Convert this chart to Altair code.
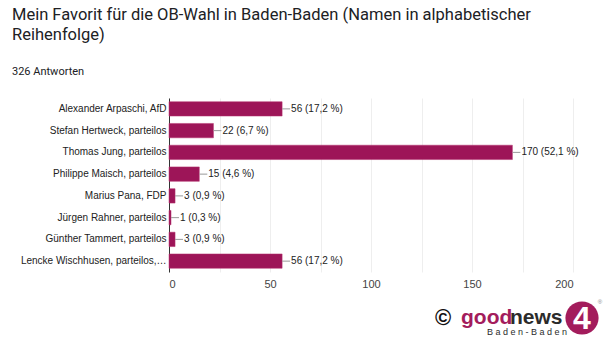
import altair as alt
import pandas as pd

names = [
    "Alexander Arpaschi, AfD",
    "Stefan Hertweck, parteilos",
    "Thomas Jung, parteilos",
    "Philippe Maisch, parteilos",
    "Marius Pana, FDP",
    "Jürgen Rahner, parteilos",
    "Günther Tammert, parteilos",
    "Lencke Wischhusen, parteilos,…",
]
votes = [56, 22, 170, 15, 3, 1, 3, 56]
percents = ["17,2", "6,7", "52,1", "4,6", "0,9", "0,3", "0,9", "17,2"]

df = pd.DataFrame({
    "name": names,
    "votes": votes,
    "label": [f"{v} ({p} %)" for v, p in zip(votes, percents)],
})

BAR = "#9d1558"
FONT = "Liberation Sans"

y_enc = alt.Y("name:N", sort=names, title=None,
              scale=alt.Scale(paddingInner=0.34, paddingOuter=0.17),
              axis=alt.Axis(labelFont=FONT, labelFontSize=10, labelColor="#222222",
                            ticks=False, domain=True, domainColor="#333333",
                            labelPadding=3, grid=False, labelLimit=200))
x_scale = alt.Scale(domain=[0, 200], nice=False)

bars = alt.Chart(df).mark_bar(color=BAR, stroke="#b5326f", strokeWidth=0.5).encode(
    x=alt.X("votes:Q", scale=x_scale, title=None,
            axis=alt.Axis(values=[0, 25, 50, 75, 100, 125, 150, 175, 200],
                          labelExpr="datum.value % 50 == 0 ? datum.label : ''",
                          labelFont=FONT, labelFontSize=11, labelColor="#444444",
                          ticks=False, domain=False, gridColor="#eeeeee",
                          labelPadding=6)),
    y=y_enc,
)

connectors = alt.Chart(df).mark_rule(color="#999999", strokeWidth=1, x2Offset=8).encode(
    x=alt.X("votes:Q", scale=x_scale),
    x2="votes:Q",
    y=alt.Y("name:N", sort=names),
)

labels = alt.Chart(df).mark_text(align="left", baseline="middle", dx=9,
                                 font=FONT, fontSize=10, color="#222222").encode(
    x=alt.X("votes:Q", scale=x_scale),
    y=alt.Y("name:N", sort=names),
    text="label:N",
)

def deco(text, x, y, **kw):
    return alt.Chart(alt.Data(values=[{}])).mark_text(**kw).encode(
        x=alt.value(x), y=alt.value(y), text=alt.value(text))

# plot origin at (169, 98)
OX, OY = 169, 98
title1 = deco("Mein Favorit für die OB-Wahl in Baden-Baden (Namen in alphabetischer",
              12 - OX, 20 - OY, align="left", baseline="alphabetic",
              font="Roboto", fontSize=16.5, color="#202124")
title2 = deco("Reihenfolge)", 12 - OX, 40 - OY, align="left", baseline="alphabetic",
              font="Roboto", fontSize=16.5, color="#202124")
sub = deco("326 Antworten", 12 - OX, 75 - OY, align="left", baseline="alphabetic",
           font="Roboto", fontSize=11, color="#202124")

copy = deco("©", 443 - OX, 318 - OY, align="center", baseline="middle",
            font=FONT, fontSize=22, fontWeight="bold", color="#111111")
good = deco("good", 461 - OX, 324 - OY, align="left", baseline="alphabetic",
            font=FONT, fontSize=21, fontWeight="bold", color="#a31c5c")
news = deco("news", 510 - OX, 324 - OY, align="left", baseline="alphabetic",
            font=FONT, fontSize=21, fontWeight="bold", color="#2b2b2b")
baden = deco("B a d e n - B a d e n", 487 - OX, 335 - OY, align="left", baseline="alphabetic",
             font=FONT, fontSize=9, color="#2b2b2b")
circle = alt.Chart(alt.Data(values=[{}])).mark_point(
    filled=True, color="#a31c5c", opacity=1, shape="circle", size=1100).encode(
    x=alt.value(582 - OX), y=alt.value(318 - OY))
four = deco("4", 582 - OX, 319 - OY, align="center", baseline="middle",
            font=FONT, fontSize=32, fontWeight="bold", color="#ffffff")
reg = deco("®", 600 - OX, 302 - OY, align="center", baseline="middle",
           font=FONT, fontSize=6, color="#888888")

chart = alt.layer(bars, connectors, labels, title1, title2, sub,
                  copy, good, news, baden, circle, four, reg).properties(
    width=404, height=174,
    autosize=alt.AutoSizeParams(type="none"),
    padding={"left": OX, "top": OY, "right": 608 - OX - 404, "bottom": 342 - OY - 174},
    background="white",
).configure_view(stroke=None)

chart.save("out.html", embed_options={"renderer": "svg", "actions": False})
